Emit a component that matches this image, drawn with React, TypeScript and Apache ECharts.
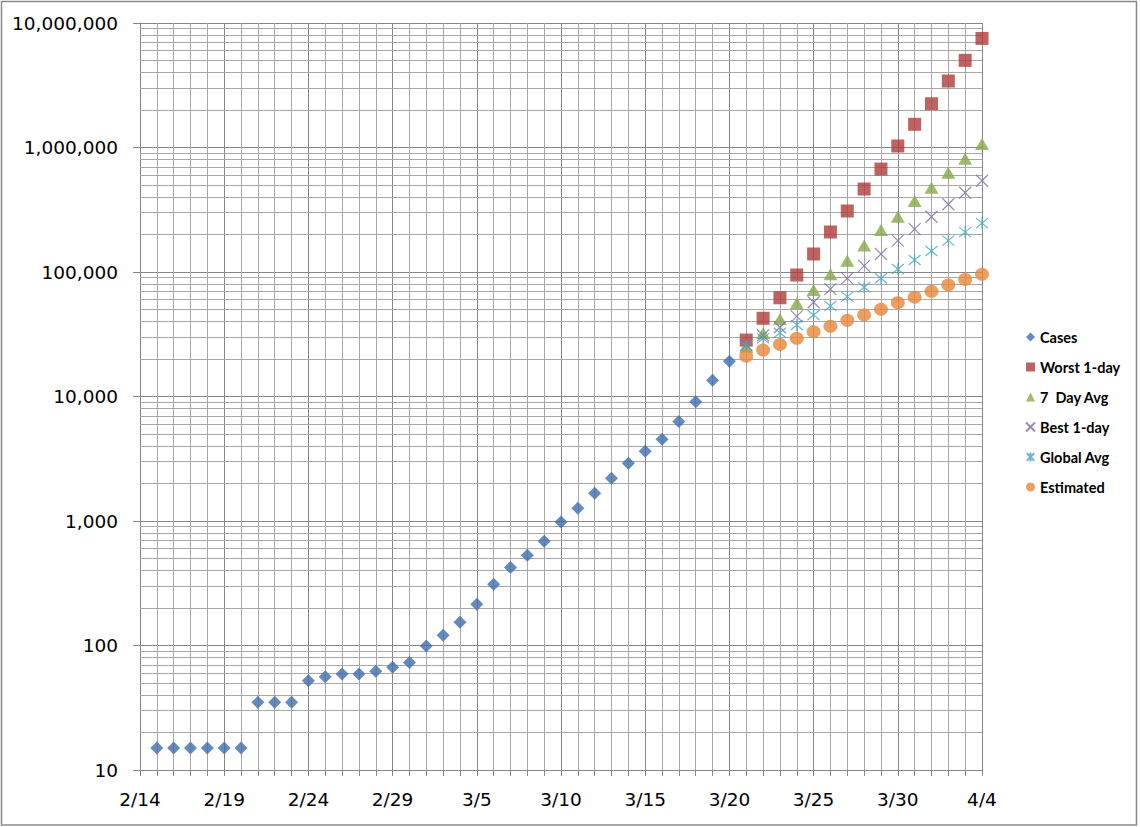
import React, { useEffect, useRef } from "react";
import * as echarts from "echarts";

const dates = [
  "2/14", "2/15", "2/16", "2/17", "2/18", "2/19", "2/20", "2/21", "2/22", "2/23",
  "2/24", "2/25", "2/26", "2/27", "2/28", "2/29",
  "3/1", "3/2", "3/3", "3/4", "3/5", "3/6", "3/7", "3/8", "3/9", "3/10",
  "3/11", "3/12", "3/13", "3/14", "3/15", "3/16", "3/17", "3/18", "3/19", "3/20",
  "3/21", "3/22", "3/23", "3/24", "3/25", "3/26", "3/27", "3/28", "3/29", "3/30",
  "3/31", "4/1", "4/2", "4/3", "4/4",
];

// Observed cases 2/15 .. 3/20
const cases = [
  15, 15, 15, 15, 15, 15, 35, 35, 35, 52, 56, 59, 59, 62, 67, 73, 99, 121, 154,
  214, 310, 424, 530, 687, 982, 1265, 1668, 2201, 2906, 3630, 4533, 6310, 9073,
  13500, 19170,
];

// Projections 3/21 .. 4/4
const worst1Day = [
  28400, 42500, 62100, 94600, 139600, 209600, 309000, 464000, 671000, 1028000,
  1535000, 2247000, 3420000, 5010000, 7520000,
];
const sevenDayAvg = [
  25100, 32200, 41900, 56000, 71600, 95900, 123400, 163000, 217000, 278000,
  371000, 475000, 627000, 813000, 1066000,
];
const best1Day = [
  26000, 31000, 36000, 44000, 57100, 72900, 88900, 112000, 139600, 178500,
  221000, 278000, 350000, 433000, 541000,
];
const globalAvg = [
  25500, 29300, 32500, 37500, 45200, 53400, 63400, 75500, 89000, 105700,
  124800, 147600, 178600, 209000, 247000,
];
const estimated = [
  21100, 23600, 26200, 29300, 33100, 36600, 40900, 45200, 50100, 56700, 62700,
  70000, 78700, 87200, 95900,
];

const seriesNames = ["Cases", "Worst 1-day", "7  Day Avg", "Best 1-day", "Global Avg", "Estimated"];

const caseDates = dates.slice(1, 1 + cases.length);
const projDates = dates.slice(36, 36 + worst1Day.length);

const pair = (ds: string[], vs: number[]) => vs.map((v, i) => [ds[i], v]);

// minor horizontal grid positions (2..9 of each decade)
const minorGrid: number[] = [];
for (let d = 10; d < 10000000; d *= 10) {
  for (let k = 2; k <= 9; k++) minorGrid.push(d * k);
}

const AXIS_FONT = "DejaVu Sans";
const MAJOR = "#868686";
const MINOR = "#a8a8a8";

export default function App() {
  const ref = useRef<HTMLDivElement>(null);
  useEffect(() => {
    document.body.style.margin = "0";
    if (!ref.current) return;
    const chart = echarts.init(ref.current, undefined, { renderer: "svg" });
    const scatterBase = { type: "scatter" as const, z: 3 };
    chart.setOption({
      animation: false,
      backgroundColor: "#ffffff",
      grid: { left: 140, right: 158, top: 23, bottom: 57, containLabel: false },
      graphic: [
        {
          type: "rect",
          shape: { x: 1.5, y: 1.5, width: 1135, height: 823.5 },
          style: { fill: "none", stroke: "#8a8a8a", lineWidth: 1.5 },
          silent: true,
          z: 0,
        },
      ],
      legend: {
        orient: "vertical",
        left: 1025,
        top: 329,
        padding: 0,
        itemWidth: 9,
        itemHeight: 9,
        itemGap: 14,
        data: seriesNames,
        textStyle: {
          fontFamily: "Lato",
          fontWeight: "bold",
          fontSize: 14.5,
          lineHeight: 16,
          color: "#000",
        },
      },
      xAxis: {
        type: "category",
        data: dates,
        boundaryGap: false,
        axisLine: { show: true, lineStyle: { color: MAJOR, width: 1 } },
        axisTick: { show: true, interval: 0, length: 6, lineStyle: { color: MAJOR } },
        axisLabel: {
          interval: 4,
          margin: 20,
          fontFamily: AXIS_FONT,
          fontSize: 18.5,
          color: "#000",
        },
        splitLine: {
          show: true,
          interval: 0,
          lineStyle: { color: [MAJOR, MINOR, MINOR, MINOR, MINOR], width: 1 },
        },
      },
      yAxis: {
        type: "log",
        logBase: 10,
        min: 10,
        max: 10000000,
        axisLine: { show: true, lineStyle: { color: MAJOR, width: 1 } },
        axisTick: { show: true, length: 7, lineStyle: { color: MAJOR } },
        axisLabel: {
          margin: 22,
          fontFamily: AXIS_FONT,
          fontSize: 18.5,
          color: "#000",
          formatter: (v: number) => Math.round(v).toLocaleString("en-US"),
        },
        splitLine: { show: true, lineStyle: { color: MAJOR, width: 1 } },
      },
      series: [
        {
          type: "line",
          name: "__grid",
          data: [],
          silent: true,
          z: 1,
          markLine: {
            silent: true,
            z: 1,
            symbol: ["none", "none"],
            label: { show: false },
            emphasis: { disabled: true },
            lineStyle: { color: MINOR, width: 1, type: "solid" },
            data: minorGrid.map((v) => ({ yAxis: v })),
          },
        },
        {
          ...scatterBase,
          name: "Cases",
          symbol: "diamond",
          symbolSize: 13,
          itemStyle: { color: "#3F6EAE" },
          data: pair(caseDates, cases),
        },
        {
          ...scatterBase,
          name: "Worst 1-day",
          symbol: "rect",
          symbolSize: 13,
          itemStyle: { color: "#AE3C3A" },
          data: pair(projDates, worst1Day),
        },
        {
          ...scatterBase,
          name: "7  Day Avg",
          symbol: "triangle",
          symbolSize: [14, 12],
          itemStyle: { color: "#88A84A" },
          data: pair(projDates, sevenDayAvg),
        },
        {
          ...scatterBase,
          name: "Best 1-day",
          symbol: "path://M0,0L10,10M10,0L0,10",
          symbolSize: 12,
          itemStyle: { color: "rgba(0,0,0,0)", borderColor: "#7E6CA6", borderWidth: 1.2 },
          data: pair(projDates, best1Day),
        },
        {
          ...scatterBase,
          name: "Global Avg",
          symbol: "path://M0,0L10,10M10,0L0,10M5,-1L5,11",
          symbolSize: 12,
          itemStyle: { color: "rgba(0,0,0,0)", borderColor: "#46A6C0", borderWidth: 1.2 },
          data: pair(projDates, globalAvg),
        },
        {
          ...scatterBase,
          name: "Estimated",
          symbol: "circle",
          symbolSize: [14, 13],
          itemStyle: { color: "#E8873A" },
          data: pair(projDates, estimated),
        },
      ],
    });
    return () => chart.dispose();
  }, []);
  return <div ref={ref} style={{ width: 1140, height: 827 }} />;
}
